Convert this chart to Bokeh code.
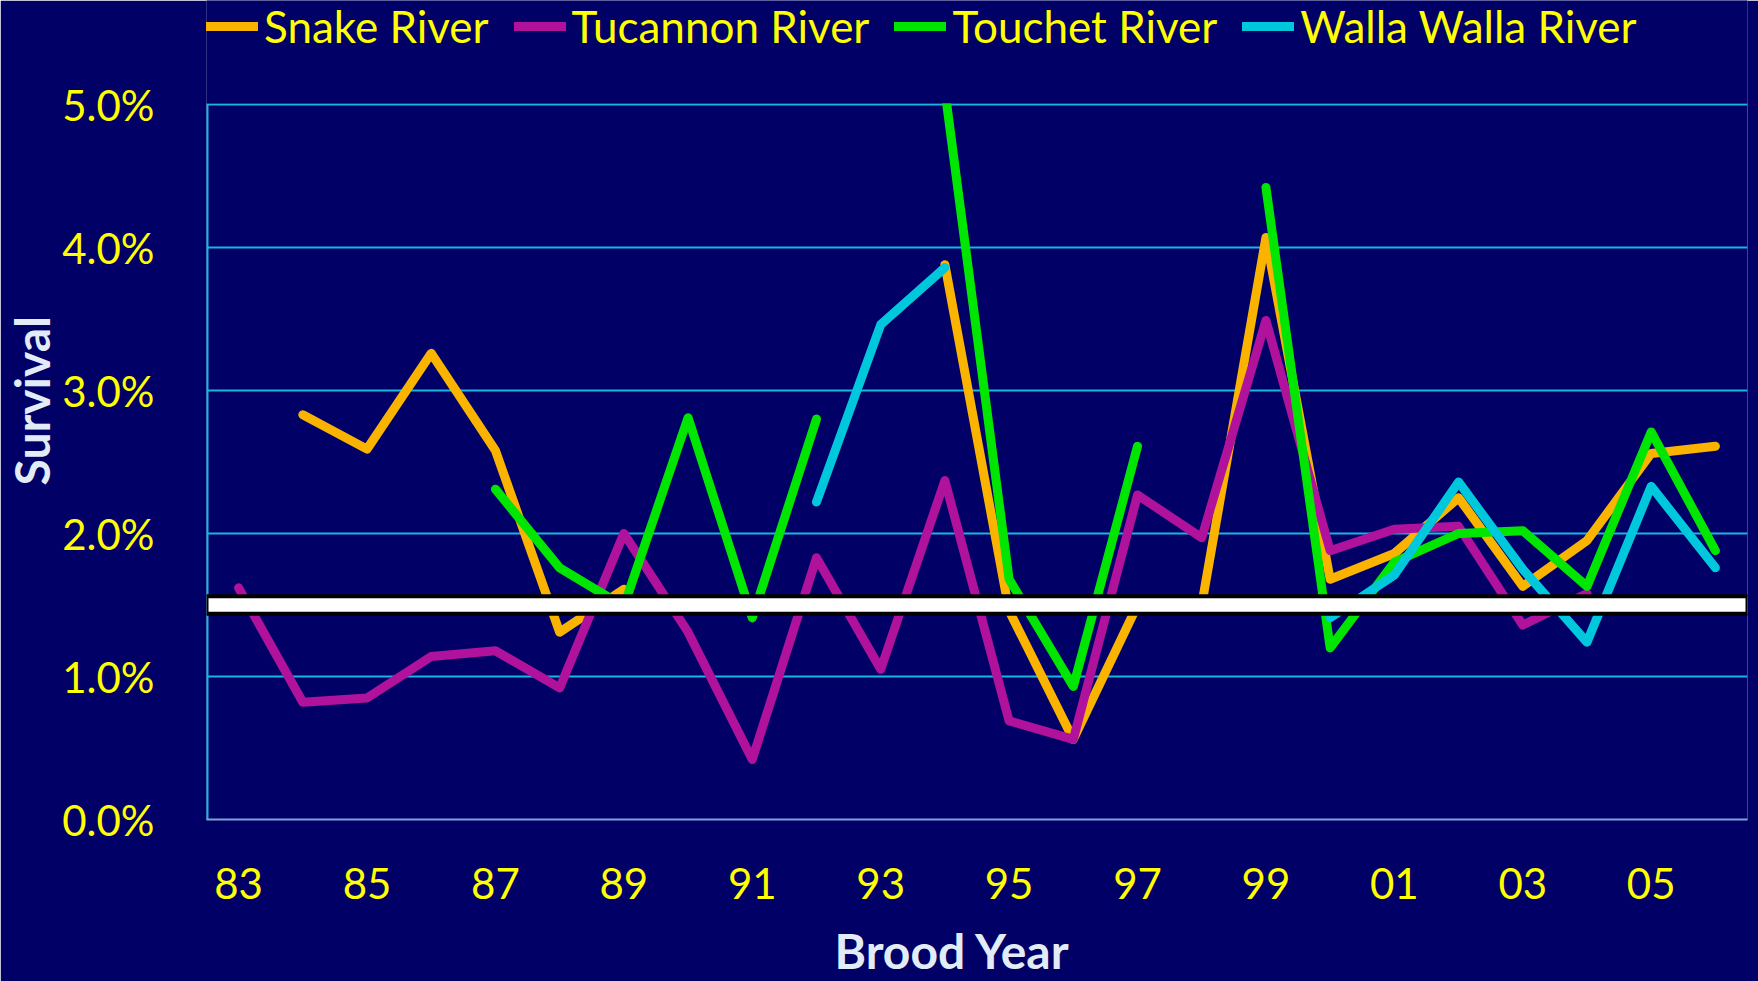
import math
from bokeh.plotting import figure
from bokeh.models import Range1d, FixedTicker, Legend, LegendItem, BoxAnnotation, Title
from bokeh.embed import file_html
from bokeh.resources import INLINE

nan = float("nan")

# ---------------- data (survival, %) ----------------
years = list(range(1983, 2007))
snake = [nan, 2.83, 2.59, 3.26, 2.58, 1.31, 1.61, nan, nan, nan, nan, 3.88,
         1.46, 0.56, 1.50, 1.50, 4.07, 1.68, 1.86, 2.25, 1.63, 1.95, 2.56, 2.61]
tucannon = [1.62, 0.82, 0.85, 1.14, 1.18, 0.92, 2.00, 1.31, 0.42, 1.83, 1.05, 2.37,
            0.69, 0.56, 2.27, 1.97, 3.49, 1.88, 2.03, 2.05, 1.36, 1.58, nan, nan]
touchet = [nan, nan, nan, nan, 2.31, 1.76, 1.49, 2.81, 1.41, 2.80, nan, 5.10,
           1.68, 0.93, 2.61, nan, 4.42, 1.20, 1.80, 2.00, 2.02, 1.63, 2.71, 1.88]
walla = [nan, nan, nan, nan, nan, nan, nan, nan, nan, 2.22, 3.46, 3.86,
         nan, nan, nan, nan, nan, 1.41, 1.71, 2.36, 1.75, 1.24, 2.33, 1.76]

series_names = ["Snake River", "Tucannon River", "Touchet River", "Walla Walla River"]
series_values = [snake, tucannon, touchet, walla]

x_ticks = [1983, 1985, 1987, 1989, 1991, 1993, 1995, 1997, 1999, 2001, 2003, 2005]
x_tick_labels = ["83", "85", "87", "89", "91", "93", "95", "97", "99", "01", "03", "05"]
y_ticks = [0, 1, 2, 3, 4, 5]
y_tick_labels = ["0.0%", "1.0%", "2.0%", "3.0%", "4.0%", "5.0%"]
y_max = 5.0
threshold = 1.5

# ---------------- styles / geometry ----------------
BG = "#000066"
COLORS = ["#FAB400", "#B0129B", "#00E600", "#00C8DC"]
YELLOW = "#FFFF00"
TITLE_COLOR = "#E2ECF6"
GRID = "#19B6DE"
FONT = "Lato"
W, H = 1758, 981
PLOT_TOP_PX, PLOT_BOTTOM_PX = 104, 819          # where 5.0% and 0.0% sit on the page
units_per_px = y_max / (PLOT_BOTTOM_PX - PLOT_TOP_PX)
y_top = PLOT_BOTTOM_PX * units_per_px             # frame extended up to page top (legend room)
x_start, x_end = 1982.5, 2006.5

p = figure(width=W, height=H, output_backend="svg", toolbar_location=None,
           x_range=Range1d(x_start, x_end), y_range=Range1d(0, y_top),
           min_border_left=206, min_border_right=11, min_border_top=0,
           min_border_bottom=H - PLOT_BOTTOM_PX,
           background_fill_color=BG, border_fill_color=BG, outline_line_color=None)

renderers = []
for vals, col in zip(series_values, COLORS):
    r = p.line(years, vals, line_color=col, line_width=9, line_cap="round", line_join="round")
    renderers.append(r)

# value axis line, only over the plotted range
p.segment(x0=[x_start], y0=[0], x1=[x_start], y1=[y_max], line_color=GRID, line_width=4)

# mask everything above the 5% line (plot area clip)
p.add_layout(BoxAnnotation(bottom=y_max + 1.2 * units_per_px, fill_color=BG, fill_alpha=1.0,
                           line_alpha=0))

# threshold band
band_half = 0.062
p.add_layout(BoxAnnotation(bottom=threshold - band_half, top=threshold + band_half,
                           fill_color="white", fill_alpha=1.0,
                           line_color="black", line_width=4, line_alpha=1.0))

# axes
xa = p.xaxis[0]
xa.ticker = FixedTicker(ticks=x_ticks)
xa.major_label_overrides = {t: l for t, l in zip(x_ticks, x_tick_labels)}
xa.axis_line_color = "#7AA6D6"
xa.axis_line_width = 2
xa.major_tick_line_color = None
xa.minor_tick_line_color = None
xa.major_label_text_font = FONT
xa.major_label_text_font_size = "42px"
xa.major_label_text_color = YELLOW
xa.major_label_standoff = 42

ya = p.yaxis[0]
ya.ticker = FixedTicker(ticks=y_ticks)
ya.major_label_overrides = {t: l for t, l in zip(y_ticks, y_tick_labels)}
ya.axis_line_color = None
ya.major_tick_line_color = None
ya.minor_tick_line_color = None
ya.major_label_text_font = FONT
ya.major_label_text_font_size = "42px"
ya.major_label_text_color = YELLOW
ya.major_label_standoff = 46

p.xgrid.grid_line_color = None
p.ygrid.grid_line_color = GRID
p.ygrid.grid_line_width = 2

# bottom: spacer then axis title
p.add_layout(Title(text=" ", text_font=FONT, text_font_size="13px", standoff=0,
                   text_color=BG), "below")
p.add_layout(Title(text="Brood Year", align="left", offset=628, standoff=0,
                   vertical_align="bottom",
                   text_font=FONT, text_font_size="48px", text_font_style="bold",
                   text_color=TITLE_COLOR), "below")
p.add_layout(Title(text="Survival", align="left", offset=334, standoff=0,
                   text_font=FONT, text_font_size="48px", text_font_style="bold",
                   text_color=TITLE_COLOR), "left")

legend = Legend(items=[LegendItem(label=n, renderers=[r]) for n, r in zip(series_names, renderers)],
                orientation="horizontal", location=(0, 767),
                background_fill_alpha=0, border_line_color=None,
                label_text_color=YELLOW, label_text_font=FONT, label_text_font_size="44px",
                glyph_width=52, glyph_height=40, label_height=40, label_standoff=6,
                spacing=25, padding=0, margin=0)
p.add_layout(legend)

open("out.html", "w").write(file_html(p, INLINE))
